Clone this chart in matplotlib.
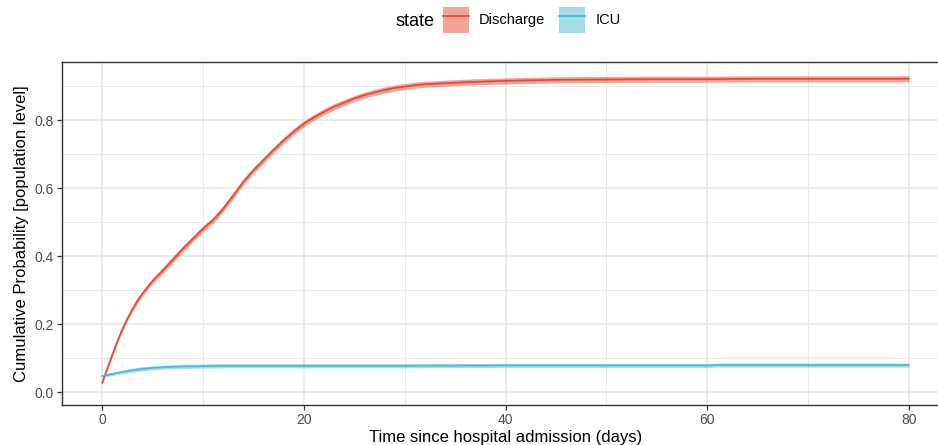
import numpy as np
import matplotlib
matplotlib.use("Agg")
import matplotlib.pyplot as plt
from matplotlib.patches import Patch
from matplotlib.lines import Line2D

plt.rcParams['font.family'] = ['Liberation Sans', 'DejaVu Sans']

# cumulative probability curves (population level)
t_dis = [0, 0.5, 1, 1.5, 2, 2.5, 3, 3.5, 4, 5, 6, 7, 8, 9, 10, 11, 12, 13, 14, 15,
         16, 17, 18, 19, 20, 21, 22, 23, 24, 25, 26, 27, 28, 29, 30, 31, 32, 34,
         36, 38, 40, 45, 50, 55, 60, 65, 70, 75, 80]
p_dis = [0.028, 0.070, 0.110, 0.150, 0.186, 0.217, 0.245, 0.270, 0.291, 0.328,
         0.358, 0.390, 0.422, 0.452, 0.481, 0.507, 0.540, 0.579, 0.619, 0.653,
         0.683, 0.713, 0.741, 0.767, 0.790, 0.809, 0.825, 0.840, 0.852, 0.864,
         0.874, 0.882, 0.889, 0.895, 0.899, 0.903, 0.906, 0.909, 0.912, 0.914,
         0.916, 0.919, 0.920, 0.921, 0.921, 0.922, 0.922, 0.922, 0.922]
hw_dis = [0.002, 0.003, 0.004, 0.005, 0.006, 0.006, 0.007, 0.007, 0.008, 0.008,
          0.009, 0.009, 0.009, 0.009, 0.009, 0.009, 0.009, 0.009, 0.009, 0.009,
          0.009, 0.009, 0.009, 0.009, 0.009, 0.009, 0.009, 0.009, 0.009, 0.009,
          0.009, 0.009, 0.009, 0.009, 0.009, 0.009, 0.009, 0.009, 0.009, 0.009,
          0.009, 0.009, 0.009, 0.009, 0.009, 0.009, 0.009, 0.009, 0.009]

t_icu = [0, 1, 2, 3, 4, 5, 6, 7, 8, 10, 12, 15, 20, 30, 40, 50, 60, 61, 70, 80]
p_icu = [0.048, 0.054, 0.060, 0.065, 0.069, 0.072, 0.074, 0.075, 0.076, 0.077,
         0.078, 0.078, 0.078, 0.078, 0.079, 0.079, 0.079, 0.080, 0.080, 0.080]
hw_icu = [0.004, 0.005, 0.005, 0.006, 0.006, 0.006, 0.006, 0.006, 0.006, 0.006,
          0.006, 0.006, 0.006, 0.006, 0.006, 0.006, 0.006, 0.006, 0.006, 0.006]

states = ['Discharge', 'ICU']
cols = ['#E64B35', '#4DBBD5']

fig = plt.figure(figsize=(9.38, 4.45), dpi=100)
ax = fig.add_axes([62/938, 1 - 405/445, (949 - 62)/938, (405 - 62)/445])

# gridlines
for v in [10, 30, 50, 70]:
    ax.axvline(v, color='#EBEBEB', lw=0.7, zorder=0)
for v in [0.1, 0.3, 0.5, 0.7, 0.9]:
    ax.axhline(v, color='#EBEBEB', lw=0.7, zorder=0)
ax.grid(True, color='#EBEBEB', lw=1.3, zorder=0)
ax.set_axisbelow(True)

series = [(t_dis, p_dis, hw_dis), (t_icu, p_icu, hw_icu)]
for (t, p, hw), c in zip(series, cols):
    t = np.array(t); p = np.array(p); hw = np.array(hw)
    ax.fill_between(t, p - hw, p + hw, color=c, alpha=0.5, lw=0, zorder=2)
    ax.plot(t, p, color=c, lw=1.3, zorder=3, solid_joinstyle='round')

ax.set_xlim(-4, 84)
ax.set_ylim(-0.0374, 0.9715)
ax.set_xticks([0, 20, 40, 60, 80])
ax.set_yticks([0.0, 0.2, 0.4, 0.6, 0.8])
ax.set_yticklabels(['0.0', '0.2', '0.4', '0.6', '0.8'])
ax.tick_params(length=3.5, width=0.9, color='#333333', labelsize=10,
               labelcolor='#4D4D4D', pad=2.5)
for s in ax.spines.values():
    s.set_color('#333333')
    s.set_linewidth(1.0)

ax.set_xlabel('Time since hospital admission (days)', fontsize=12, labelpad=2)
ax.set_ylabel('Cumulative Probability [population level]', fontsize=12, labelpad=4)

handles = [(Patch(facecolor=c, alpha=0.5, lw=0), Line2D([], [], color=c, lw=1.3))
           for c in cols]
leg = fig.legend(handles, states, loc='center left', bbox_to_anchor=(443/938, 1 - 20/445),
                 ncol=2, frameon=False, fontsize=10.5, handlelength=1.78, handleheight=2.36,
                 handletextpad=0.7, columnspacing=0.95, borderpad=0, borderaxespad=0)
fig.text(395/938, 1 - 21/445, 'state', fontsize=13, va='center', ha='left')

fig.savefig('out.png', dpi=100)
